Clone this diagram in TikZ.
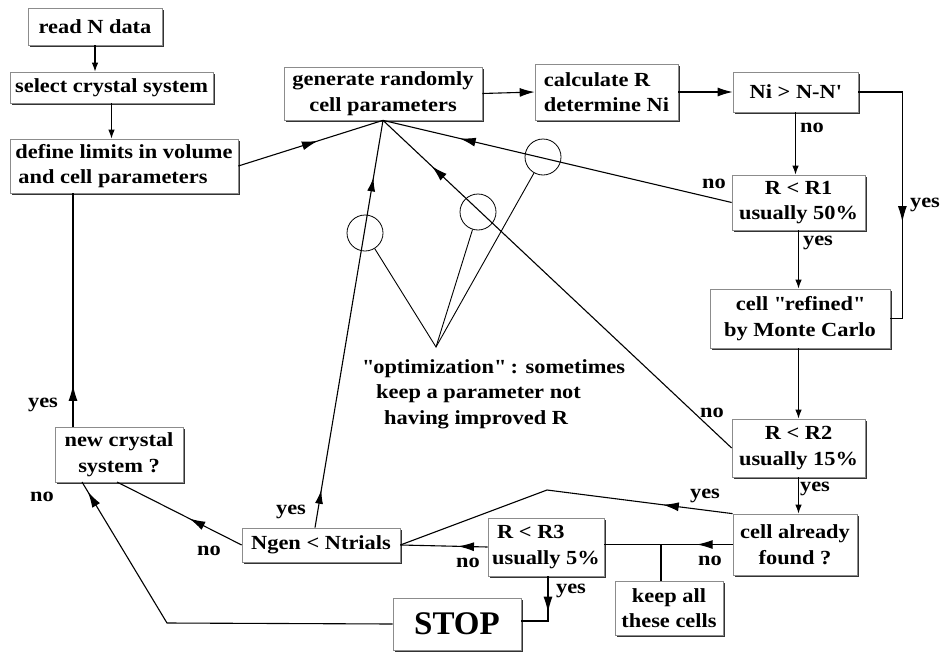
\documentclass[tikz,border=0pt]{standalone}
\usepackage{fontspec}
\setmainfont{Liberation Serif}[FakeStretch=1.12]
\newfontfamily\stopfamily{Liberation Serif}
\usetikzlibrary{arrows.meta,shadows,decorations.markings,calc}
\newcommand{\diagfont}{\fontsize{20}{25.5}\selectfont\bfseries}
\begin{document}
\begin{tikzpicture}[x=1pt,y=-1pt,
  every node/.style={font=\diagfont, inner sep=0pt},
  box/.style={draw=black!45, line width=0.7pt, fill=white, align=center,
    drop shadow={shadow xshift=1.8pt, shadow yshift=-1.8pt, fill=black!80, opacity=1}},
  ln/.style={line width=1.1pt},
  arr/.style={ln, -{Latex[length=9pt,width=6.5pt]}},
  arrb/.style={ln, -{Latex[length=15pt,width=9pt]}},
  mid/.style={ln, postaction={decorate}, decoration={markings,
    mark=at position #1 with {\arrow{Latex[length=16pt,width=9pt]}}}},
  midtwo/.style 2 args={ln, postaction={decorate}, decoration={markings,
    mark=at position #1 with {\arrow{Latex[length=14pt,width=8pt]}},
    mark=at position #2 with {\arrow{Latex[length=14pt,width=8pt]}}}},
  lbl/.style={font=\diagfont},
  circ/.style={circle, draw, line width=0.8pt, minimum size=36pt, inner sep=0pt}
]
\useasboundingbox (0,0) rectangle (942,653);

% boxes
\node[box, minimum width=134pt, minimum height=37pt] (read) at (95,26.5) {read N data};
\node[box, minimum width=203pt, minimum height=31pt] (sel) at (111.5,87.5) {select crystal system};
\node[box, minimum width=228pt, minimum height=54pt, align=left] (def) at (124,166) {define limits in volume\\\hspace{3pt}and cell parameters};
\node[box, minimum width=198pt, minimum height=53pt] (gen) at (383,93.5) {generate randomly\\cell parameters};
\node[box, minimum width=143pt, minimum height=56pt, align=left] (calc) at (606.5,92) {calculate R\\determine Ni};
\node[box, minimum width=125pt, minimum height=40pt] (ni) at (795.5,92) {Ni > N-N\textquotesingle};
\node[box, minimum width=133pt, minimum height=55pt] (r1) at (798.5,202.5) {R < R1\\usually 50\%};
\node[box, minimum width=180pt, minimum height=59pt] (ref) at (800,318.5) {cell \textquotedbl refined\textquotedbl\\by Monte Carlo};
\node[box, minimum width=133pt, minimum height=58pt] (r2) at (798.5,448) {R < R2\\usually 15\%};
\node[box, minimum width=124pt, minimum height=61pt] (found) at (795,544.5) {cell already\\found ?};
\node[box, minimum width=116pt, minimum height=58pt, align=left] (r3) at (546,547) {\hspace{5pt}R < R3\\usually 5\%};
\node[box, minimum width=108pt, minimum height=54pt] (keep) at (669,608) {keep all\\these cells};
\node[box, minimum width=128pt, minimum height=52pt, font=\stopfamily\fontsize{33}{36}\selectfont\bfseries] (stop) at (457,624) {STOP};
\node[box, minimum width=158pt, minimum height=34pt] (ngen) at (321,545) {Ngen < Ntrials};
\node[box, minimum width=128pt, minimum height=55pt] (ncs) at (119,454.5) {new crystal\\system ?};

% optimization callout
\node[circ] (c1) at (365,233) {};
\node[circ] (c2) at (478,212) {};
\node[circ] (c3) at (543,157) {};
\coordinate (apex) at (436,347);
\draw[line width=0.9pt] (c1) -- (apex) -- (c2);
\draw[line width=0.9pt] (apex) -- (c3);
\node[anchor=north west, align=left] (opt) at (362,359) {\textquotedbl optimization\textquotedbl\ : sometimes\\\hspace{14pt}keep a parameter not\\\hspace{22pt}having improved R};

% connectors
\coordinate (gp) at (gen.south);
\draw[arr] (read.south) -- (read.south |- sel.north);
\draw[arr] (sel.south) -- (sel.south |- def.north);
\draw[mid=0.55] (def.east) -- (gp);
\draw[arrb] (gen.east) -- (calc.west);
\draw[arrb] (calc.east) -- (ni.west);
\draw[mid=0.616] (ni.east) -- ++(44,0) |- (ref.east);
\draw[arr] (ni.south) -- (ni.south |- r1.north);
\draw[mid=0.78] (r1.west) -- (gp);
\draw[arr] (r1.south) -- (r1.south |- ref.north);
\draw[arr] (r2.north |- ref.south) -- (r2.north);
\draw[mid=0.86] (r2.west) -- (gp);
\draw[arr] (r2.south) -- (r2.south |- found.north);
\coordinate (fy) at (547,490);
\draw[mid=0.205] (found.north west) -- (fy) -- (ngen.east);
\draw[mid=0.28] (found.west) -- (found.west -| r3.east);
\coordinate (kb) at (661,545);
\draw[ln] (kb) -- (kb |- keep.north);
\draw[mid=0.34] (r3.west) -- (ngen.east);
\coordinate (r3s) at (548,576);
\draw[mid=0.51] (r3s) -- (548,621) -- (stop.east |- 0,621);
\coordinate (ngs) at ($(ngen.north)+(-6,0)$);
\draw[midtwo={0.093}{0.86}] (ngs) -- (gp);
\coordinate (ncb) at (117,482);
\draw[mid=0.42] (ngen.west) -- (ncb);
\coordinate (nct) at (73,427);
\draw[mid=0.18] (nct) -- (nct |- def.south);
\coordinate (ncb2) at (82,482);
\draw[mid=0.971] (stop.west) -- (167,623) -- (ncb2);

% labels
\node[lbl] at (925,205) {yes};
\node[lbl] at (812,128) {no};
\node[lbl] at (714,184) {no};
\node[lbl] at (818,243) {yes};
\node[lbl] at (712,413) {no};
\node[lbl] at (815,489) {yes};
\node[lbl] at (705,496) {yes};
\node[lbl] at (710,561) {no};
\node[lbl] at (468,563) {no};
\node[lbl] at (571,591) {yes};
\node[lbl] at (291,512) {yes};
\node[lbl] at (209,551) {no};
\node[lbl] at (43,405) {yes};
\node[lbl] at (42,497) {no};
\end{tikzpicture}
\end{document}
